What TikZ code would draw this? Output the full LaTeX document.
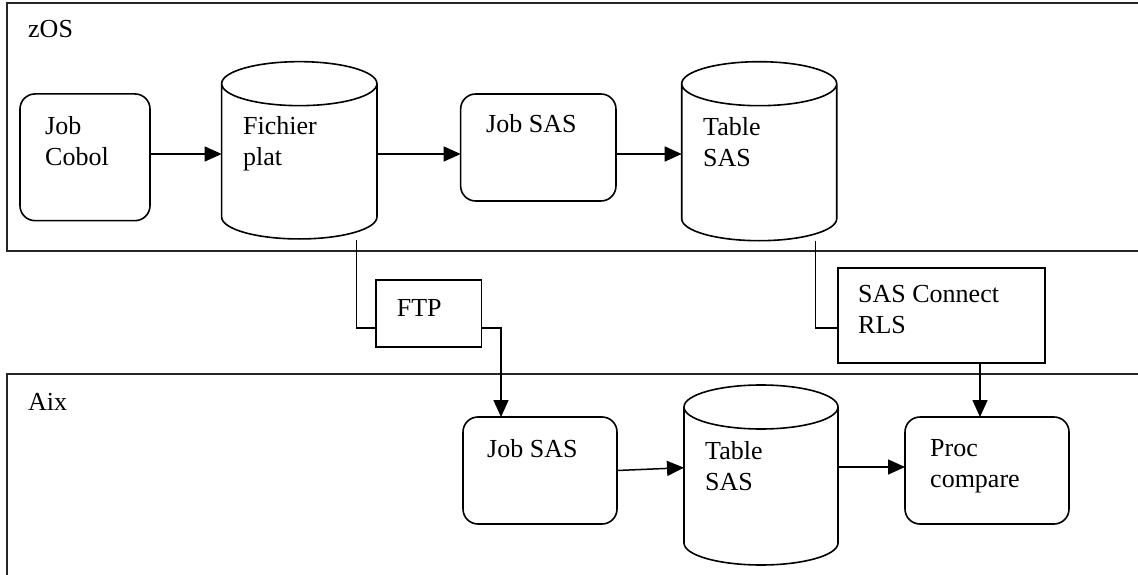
\documentclass[tikz,border=0pt]{standalone}
\usepackage{fontspec}
\setmainfont{Liberation Serif}
\usepackage{tikz}
\usetikzlibrary{arrows.meta,shapes,positioning}
\tikzstyle{arrow} = [line width=1.5pt,->,>={Triangle[length=17pt,width=15pt]}]
\tikzstyle{link} = [line width=1.5pt]
\tikzstyle{zone} = [line width=2pt, color=black!85]
\tikzstyle{job} = [rectangle, rounded corners=15pt, draw, line width=1.6pt, inner sep=0pt, outer sep=0pt]
\tikzstyle{store} = [rectangle, inner sep=0pt, outer sep=0pt]
\tikzstyle{storeline} = [line width=1.6pt]
\tikzstyle{transfer} = [rectangle, draw, line width=1.6pt, inner sep=0pt, outer sep=0pt]
\tikzstyle{lbl} = [anchor=base west, align=left, inner sep=0pt, font=\fontsize{26}{31}\selectfont]
% cylinder outline round a store node: name, half width
\newcommand{\drawstore}[2]{%
  \draw[storeline] ([yshift=-22pt]#1.north west) -- ([yshift=22pt]#1.south west)
    arc[start angle=180, end angle=360, x radius=#2pt, y radius=22pt]
    -- ([yshift=-22pt]#1.north east)
    arc[start angle=0, end angle=180, x radius=#2pt, y radius=22pt]
    arc[start angle=180, end angle=360, x radius=#2pt, y radius=22pt];}

\begin{document}
\begin{tikzpicture}[x=1pt,y=-1pt]
\useasboundingbox (0,0) rectangle (1138,575);
% zOS side
\draw[zone] (1140,3) -- (7,3) -- (7,250.5) -- (1140,250.5);
\node (zoslbl) [lbl] at (28,38) {zOS};
\node (cobol) [job, minimum width=130pt, minimum height=126.7pt] at (85,157.3) {};
\node (coboltxt) [lbl] at (45,165) {Job\\Cobol};
\node (fichier) [store, minimum width=155.3pt, minimum height=177.3pt] at (299.3,150.3) {};
\drawstore{fichier}{77.65}
\node (fichiertxt) [lbl] at (243,165) {Fichier\\plat};
\node (jobz) [job, minimum width=155.3pt, minimum height=107pt] at (538.3,147.5) {};
\node (jobztxt) [lbl] at (486,133) {Job SAS};
\node (tablez) [store, minimum width=155pt, minimum height=179pt] at (759.2,151.2) {};
\drawstore{tablez}{77.5}
\node (tableztxt) [lbl] at (703,167) {Table\\SAS};

% transfers
\node (ftp) [transfer, minimum width=105.7pt, minimum height=67pt] at (428.8,313.5) {};
\node (ftptxt) [lbl] at (396.7,316) {FTP};
\node (rls) [transfer, minimum width=207pt, minimum height=95pt] at (941.5,315.2) {};
\node (rlstxt) [lbl] at (858,333) {SAS Connect\\RLS};

% Aix side
\draw[zone] (1140,374) -- (7,374) -- (7,578);
\node (aixlbl) [lbl] at (28,410) {Aix};
\node (joba) [job, minimum width=154pt, minimum height=107pt] at (540,470.5) {};
\node (jobatxt) [lbl] at (487,457) {Job SAS};
\node (tablea) [store, minimum width=154pt, minimum height=180pt] at (761,475) {};
\drawstore{tablea}{77}
\node (tableatxt) [lbl] at (705,490) {Table\\SAS};
\node (proc) [job, minimum width=164pt, minimum height=107pt] at (987,470.5) {};
\node (proctxt) [lbl] at (930,487) {Proc\\compare};

\draw[arrow] ([yshift=3.3pt]cobol.east) -- ([yshift=3.3pt]cobol.east -| fichier.west);
\draw[arrow] ([yshift=-3.7pt]fichier.east) -- ([yshift=-3.7pt]fichier.east -| jobz.west);
\draw[arrow] ([yshift=-6.5pt]jobz.east) -- ([yshift=-6.5pt]jobz.east -| tablez.west);
\draw[link] ([xshift=57.4pt,yshift=-1pt]fichier.south) |- ([yshift=-14.5pt]ftp.west);
\draw[arrow] ([yshift=-14.5pt]ftp.east) -| ([xshift=-39pt]joba.north);
\draw[link] ([xshift=56.5pt]tablez.south) |- ([yshift=-13pt]rls.west);
\draw[arrow] ([xshift=38.5pt]rls.south) -- ([xshift=-7pt]proc.north);
\draw[arrow] (joba.east) -- ([yshift=7.3pt]tablea.west);
\draw[arrow] ([yshift=8pt]tablea.east) -- ([yshift=8pt]tablea.east -| proc.west);
\end{tikzpicture}
\end{document}
